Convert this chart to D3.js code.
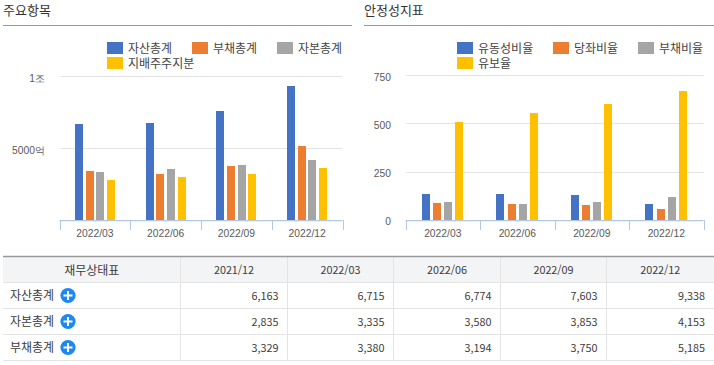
<!DOCTYPE html>
<html lang="ko">
  <head>
    <meta charset="utf-8" />
    <title>주요항목 / 안정성지표</title>
    <script src="https://d3js.org/d3.v7.min.js"></script>
    <style>
      html,
      body {
        margin: 0;
        padding: 0;
        background: #fff;
        overflow: hidden;
      }

      svg {
        display: block;
        font-family: "Noto Sans CJK KR", "Noto Sans", sans-serif;
      }

      .title {
        font-size: 13px;
        fill: #333;
      }

      .legend text {
        font-size: 12px;
        fill: #444;
      }

      .tick text {
        font-size: 10.3px;
        fill: #595959;
      }

      .cell {
        font-size: 12px;
        fill: #3c3c3c;
      }

      .num {
        font-size: 10.8px;
        fill: #3c3c3c;
      }
    </style>
  </head>

  <body>
    <svg id="page" width="714" height="365"></svg>

    <script>
      var periods = ["2022/03", "2022/06", "2022/09", "2022/12"];
      var colors = ["#4472c4", "#ed7d31", "#a5a5a5", "#ffc000"];

      // table columns, 2021/12 is only in the table
      var tablePeriods = ["2021/12", "2022/03", "2022/06", "2022/09", "2022/12"];
      var totalAssets = [6163, 6715, 6774, 7603, 9338];
      var totalEquity = [2835, 3335, 3580, 3853, 4153];
      var totalDebt = [3329, 3380, 3194, 3750, 5185];
      var controllingEquity = [2770, 2980, 3190, 3600];

      var itemNames = ["자산총계", "부채총계", "자본총계", "지배주주지분"];
      var itemTicks = [5000, 10000];
      var itemTickLabels = ["5000억", "1조"];

      var ratioNames = ["유동성비율", "당좌비율", "부채비율", "유보율"];
      var currentRatio = [135, 135, 130, 83];
      var quickRatio = [88, 83, 78, 57];
      var debtRatio = [93, 83, 93, 119];
      var reserveRatio = [509, 555, 602, 670];
      var ratioTicks = [0, 250, 500, 750];

      var rowNames = ["자산총계", "자본총계", "부채총계"];
      var rowValues = [totalAssets, totalEquity, totalDebt];

      var svg = d3.select("#page");

      drawChart({
        title: "주요항목",
        titleX: 3,
        ruleX: [3, 352],
        axisX: [59.5, 342.5],
        labelX: 45,
        top: 76.5,
        max: 10000,
        ticks: itemTicks,
        tickLabel: function (d) {
          return itemTickLabels[itemTicks.indexOf(d)];
        },
        names: itemNames,
        series: [
          totalAssets.slice(1),
          totalDebt.slice(1),
          totalEquity.slice(1),
          controllingEquity,
        ],
        legendX: [107, 192, 277],
        barPadding: 0.25,
        outerPadding: 1.44,
      });

      drawChart({
        title: "안정성지표",
        titleX: 364,
        ruleX: [364, 714],
        axisX: [405.5, 703.5],
        labelX: 391,
        top: 75.5,
        max: 750,
        ticks: ratioTicks,
        tickLabel: function (d) {
          return d;
        },
        names: ratioNames,
        series: [currentRatio, quickRatio, debtRatio, reserveRatio],
        legendX: [457, 553, 638],
        barPadding: 0.27,
        outerPadding: 1.48,
      });

      drawTable();

      function drawChart(c) {
        var g = svg.append("g");
        var bottom = 220;

        g.append("text")
          .attr("class", "title")
          .attr("x", c.titleX)
          .attr("y", 15)
          .text(c.title);
        g.append("line")
          .attr("x1", c.ruleX[0])
          .attr("x2", c.ruleX[1])
          .attr("y1", 25.5)
          .attr("y2", 25.5)
          .attr("stroke", "#999");

        var x = d3.scaleBand().domain(periods).range(c.axisX);
        var inner = d3
          .scaleBand()
          .domain(d3.range(4))
          .range([0, x.bandwidth()])
          .paddingInner(c.barPadding)
          .paddingOuter(c.outerPadding);
        var y = d3.scaleLinear().domain([0, c.max]).range([bottom, c.top]);

        // gridlines
        g.selectAll(".grid")
          .data(c.ticks.filter((d) => d > 0))
          .enter()
          .append("line")
          .attr("class", "grid")
          .attr("x1", c.axisX[0] + 1)
          .attr("x2", c.axisX[1])
          .attr("y1", (d) => Math.round(y(d) - 0.3) + 0.5)
          .attr("y2", (d) => Math.round(y(d) - 0.3) + 0.5)
          .attr("stroke", "#e4e4e4");

        // y labels
        var yAxis = d3
          .axisLeft(y)
          .tickValues(c.ticks)
          .tickFormat(c.tickLabel)
          .tickSize(0);
        var yg = g
          .append("g")
          .attr("transform", `translate(${c.labelX},1.5)`)
          .call(yAxis);
        yg.select(".domain").remove();
        yg.selectAll("text").attr("x", 0);

        // bars
        c.series.forEach(function (values, s) {
          g.selectAll(".bar" + s)
            .data(values)
            .enter()
            .append("rect")
            .attr("class", "bar" + s)
            .attr("x", (d, i) => Math.round(x(periods[i]) + inner(s)))
            .attr("y", (d) => Math.round(y(d)))
            .attr("width", 8)
            .attr("height", (d) => bottom - Math.round(y(d)))
            .attr("fill", colors[s]);
        });

        // x axis with ticks between the groups
        var axisColor = "#b4c7e0";
        g.append("line")
          .attr("x1", c.axisX[0])
          .attr("x2", c.axisX[1])
          .attr("y1", bottom + 0.6)
          .attr("y2", bottom + 0.6)
          .attr("stroke", axisColor)
          .attr("stroke-width", 1.3);
        g.selectAll(".sep")
          .data(d3.range(5))
          .enter()
          .append("line")
          .attr("class", "sep")
          .attr("x1", (d) => Math.round(c.axisX[0] + d * x.step()) + 0.5)
          .attr("x2", (d) => Math.round(c.axisX[0] + d * x.step()) + 0.5)
          .attr("y1", bottom)
          .attr("y2", bottom + 10)
          .attr("stroke", axisColor);

        var xg = g
          .append("g")
          .attr("transform", `translate(0,${bottom})`)
          .call(d3.axisBottom(x).tickSize(0).tickPadding(10));
        xg.select(".domain").remove();

        // legend, three per row
        var legend = g
          .selectAll(".legend")
          .data(c.names)
          .enter()
          .append("g")
          .attr("class", "legend")
          .attr(
            "transform",
            (d, i) =>
              `translate(${c.legendX[i % 3]},${42 + 15 * Math.floor(i / 3)})`
          );
        legend
          .append("rect")
          .attr("width", 16)
          .attr("height", 12)
          .attr("fill", (d, i) => colors[i]);
        legend
          .append("text")
          .attr("x", 21)
          .attr("y", 10.5)
          .text((d) => d);
      }

      function drawTable() {
        var g = svg.append("g");
        var colX = [3, 180.5, 287.5, 393.5, 500.5, 606.5, 714];
        var rowY = [256.5, 282.5, 308.5, 334.5, 360.5];
        var fmt = d3.format(",");

        g.append("rect")
          .attr("x", colX[0])
          .attr("y", rowY[0])
          .attr("width", colX[6] - colX[0])
          .attr("height", rowY[1] - rowY[0])
          .attr("fill", "#f3f4f6");

        g.selectAll(".col")
          .data(colX.slice(1, 6))
          .enter()
          .append("line")
          .attr("x1", (d) => d)
          .attr("x2", (d) => d)
          .attr("y1", rowY[0])
          .attr("y2", rowY[4])
          .attr("stroke", "#e4e4e4");

        g.selectAll(".row")
          .data(rowY)
          .enter()
          .append("line")
          .attr("x1", colX[0])
          .attr("x2", colX[6])
          .attr("y1", (d) => d)
          .attr("y2", (d) => d)
          .attr("stroke", (d, i) => (i == 0 ? "#999" : "#e4e4e4"))
          .attr("stroke-width", (d, i) => (i == 0 ? 1.5 : 1));

        g.append("text")
          .attr("class", "cell")
          .attr("x", (colX[0] + colX[1]) / 2)
          .attr("y", 274.5)
          .attr("text-anchor", "middle")
          .text("재무상태표");

        tablePeriods.forEach(function (p, i) {
          g.append("text")
            .attr("class", "num")
            .attr("x", (colX[i + 1] + colX[i + 2]) / 2)
            .attr("y", 274)
            .attr("text-anchor", "middle")
            .text(p);
        });

        rowNames.forEach(function (name, r) {
          var base = rowY[r + 1] + 17.5;
          g.append("text")
            .attr("class", "cell")
            .attr("x", 10)
            .attr("y", base)
            .text(name);

          // plus button
          var cy = rowY[r + 1] + 13;
          g.append("circle")
            .attr("cx", 68)
            .attr("cy", cy)
            .attr("r", 7.6)
            .attr("fill", "#1e88f0");
          g.append("path")
            .attr("d", `M63.5,${cy}H72.5M68,${cy - 4.5}V${cy + 4.5}`)
            .attr("stroke", "#fff")
            .attr("stroke-width", 2);

          rowValues[r].forEach(function (v, i) {
            g.append("text")
              .attr("class", "num")
              .attr("x", colX[i + 2] - 9)
              .attr("y", base)
              .attr("text-anchor", "end")
              .text(fmt(v));
          });
        });
      }
    </script>
  </body>
</html>
